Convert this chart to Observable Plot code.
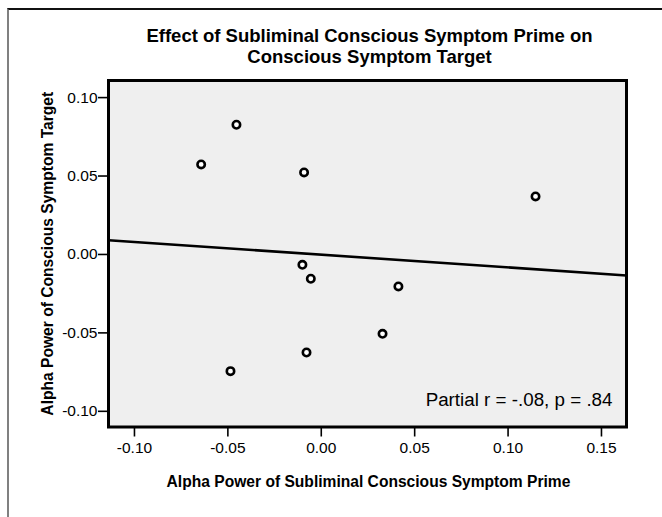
<!DOCTYPE html>
<html>
<head>
<meta charset="utf-8">
<script src="https://cdn.jsdelivr.net/npm/d3@7"></script>
<script src="https://cdn.jsdelivr.net/npm/@observablehq/plot@0.6"></script>
<style>
  html, body { margin: 0; padding: 0; background: #fff; }
  #wrap { position: relative; width: 662px; height: 517px; overflow: hidden; }
  #wrap svg { position: absolute; left: 0; top: 0; }
  #border { position: absolute; left: 7px; top: 8px; width: 700px; height: 600px;
            border-top: 2px solid #111; border-left: 2px solid #808080; box-sizing: border-box; }
</style>
</head>
<body>
<div id="wrap"></div>
<script>
// ---- data ----
const titleLines = ["Effect of Subliminal Conscious Symptom Prime on", "Conscious Symptom Target"];
const xLabel = "Alpha Power of Subliminal Conscious Symptom Prime";
const yLabel = "Alpha Power of Conscious Symptom Target";
const annotation = "Partial r = -.08, p = .84";

const primeX = [-0.0454, -0.0643, -0.0092, -0.0101, -0.0056, 0.0413, 0.0328, -0.0079, 0.1147, -0.0486];
const targetY = [0.0827, 0.0574, 0.0523, -0.0066, -0.0155, -0.0204, -0.0506, -0.0625, 0.0370, -0.0744];

const fitX = [-0.1139, 0.1634];
const fitY = [0.0091, -0.0134];

const xTicks = [-0.10, -0.05, 0.00, 0.05, 0.10, 0.15];
const yTicks = [-0.10, -0.05, 0.00, 0.05, 0.10];
const xDomain = [-0.1139, 0.1634];
const yDomain = [-0.1100, 0.1109];

// ---- build ----
const points = primeX.map((x, i) => ({x, y: targetY[i]}));
const fit = fitX.map((x, i) => ({x, y: fitY[i]}));
const fmt = d => d.toFixed(2);
const font = "Arial, 'Liberation Sans', Helvetica, sans-serif";

const chart = Plot.plot({
  width: 662,
  height: 517,
  marginLeft: 108,
  marginRight: 36,
  marginTop: 80,
  marginBottom: 90.5,
  style: {background: "transparent", fontFamily: font, color: "#000"},
  x: {domain: xDomain},
  y: {domain: yDomain},
  marks: [
    Plot.frame({fill: "#efefef", stroke: "none"}),
    Plot.axisX({ticks: xTicks, tickFormat: fmt, tickSize: 10, tickPadding: 5, fontSize: 15.5, strokeWidth: 1.6, label: null, fill: "#000"}),
    Plot.axisY({ticks: yTicks, tickFormat: fmt, tickSize: 10, tickPadding: 1, fontSize: 15.5, strokeWidth: 1.6, label: null, fill: "#000"}),
    Plot.line(fit, {x: "x", y: "y", stroke: "#000", strokeWidth: 2.6}),
    Plot.dot(points, {x: "x", y: "y", r: 3.7, stroke: "#000", strokeWidth: 2.6, fill: "#fff"}),
    Plot.frame({stroke: "#000", strokeWidth: 3}),
    Plot.text([titleLines[0]], {frameAnchor: "top", textAnchor: "middle", lineAnchor: "bottom", dy: -38.8, dx: 2, fontSize: 18.5, fontWeight: "bold", fill: "#000"}),
    Plot.text([titleLines[1]], {frameAnchor: "top", textAnchor: "middle", lineAnchor: "bottom", dy: -18, dx: 2, fontSize: 18.5, fontWeight: "bold", fill: "#000"}),
    Plot.text([xLabel], {frameAnchor: "bottom", textAnchor: "middle", lineAnchor: "middle", dy: 54.5, dx: 1, fontSize: 15.6, fontWeight: "bold", fill: "#000"}),
    Plot.text([yLabel], {frameAnchor: "left", textAnchor: "middle", lineAnchor: "middle", rotate: -90, dx: -61, fontSize: 15.6, fontWeight: "bold", fill: "#000"}),
    Plot.text([annotation], {frameAnchor: "bottom-right", textAnchor: "end", lineAnchor: "bottom", dx: -14, dy: -21.5, fontSize: 18.8, fill: "#000"})
  ]
});
const wrap = document.getElementById("wrap");
wrap.appendChild(chart);
const b = document.createElement("div");
b.id = "border";
wrap.appendChild(b);
</script>
</body>
</html>
